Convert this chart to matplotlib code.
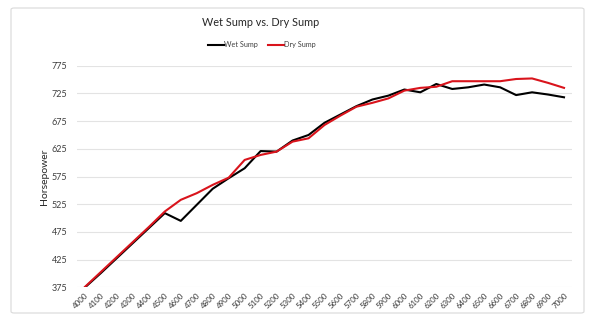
import matplotlib
matplotlib.use("Agg")
import matplotlib.pyplot as plt
from matplotlib.patches import FancyBboxPatch

plt.rcParams['font.family'] = ['Lato', 'DejaVu Sans']

# Engine speed (rpm) and horsepower readings
rpm = list(range(4000, 7001, 100))
wet_sump = [375, 401, 428, 455, 482, 509, 495, 524, 553, 572, 590, 621, 620, 640, 650, 672,
            687, 702, 714, 721, 732, 727, 742, 733, 736, 741, 736, 722, 727, 723, 718]
dry_sump = [376, 403, 430, 457, 484, 512, 533, 545, 560, 573, 605, 614, 620, 638, 644, 668,
            685, 701, 708, 716, 730, 735, 737, 747, 747, 747, 747, 751, 752, 744, 735]
y_ticks = [375, 425, 475, 525, 575, 625, 675, 725, 775]

fig = plt.figure(figsize=(5.96, 3.24), dpi=100)

# light rounded chart border like the spreadsheet chart area
border = FancyBboxPatch((11 / 596, 1 - 313 / 324), 573 / 596, 305 / 324,
                        boxstyle="round,pad=0,rounding_size=0.005",
                        transform=fig.transFigure, facecolor='white',
                        edgecolor='#d9d9d9', linewidth=0.8, zorder=-1)
fig.patches.append(border)

ax = fig.add_axes([77 / 596, 1 - 287.4 / 324, 495 / 596, 221.7 / 324])
ax.patch.set_alpha(0)
ax.plot(rpm, wet_sump, color='black', linewidth=1.5, label='Wet Sump')
ax.plot(rpm, dry_sump, color='#d9141c', linewidth=1.5, label='Dry Sump')

ax.set_xlim(3950, 7050)
ax.set_ylim(375, 775)
ax.set_yticks(y_ticks)
ax.set_xticks(rpm)
ax.set_xticklabels([str(r) for r in rpm], rotation=45, ha='right',
                   rotation_mode='anchor', fontsize=5.7, color='#333333')
ax.tick_params(axis='y', labelsize=6.5, labelcolor='#404040', length=0, pad=7)
ax.tick_params(axis='x', length=0, pad=3)
ax.grid(axis='y', color='#e3e3e3', linewidth=0.8)
ax.set_axisbelow(True)
for s in ax.spines.values():
    s.set_visible(False)
ax.set_ylabel('Horsepower', fontsize=7.5, color='#262626', labelpad=2)

fig.text(261 / 596, 1 - 23 / 324, 'Wet Sump vs. Dry Sump', ha='center', va='center',
         fontsize=7.8, color='#262626')
fig.legend(loc='center', bbox_to_anchor=(262 / 596, 1 - 45 / 324), ncol=2,
           frameon=False, fontsize=5.2, handlelength=2.2, handletextpad=0.1,
           columnspacing=1.3, labelcolor='#404040')

fig.savefig('out.png', dpi=100, facecolor='white')
